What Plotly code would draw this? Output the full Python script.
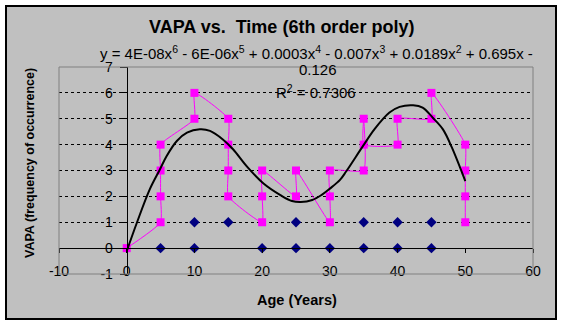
import plotly.graph_objects as go

# VAPA observations (magenta, connected in data order)
vapa_age = [0, 5, 5, 5, 5, 10, 10, 15, 15, 15, 15, 20, 20, 20, 25, 25,
            30, 30, 30, 35, 35, 35, 40, 40, 45, 45, 50, 50, 50, 50]
vapa_val = [0, 1, 2, 3, 4, 5, 6, 5, 4, 3, 2, 1, 2, 3, 2, 3,
            1, 2, 3, 3, 5, 4, 4, 5, 5, 6, 4, 3, 2, 1]

# second series (navy diamonds)
other_age = [5, 10, 20, 25, 30, 35, 40, 45, 10, 15, 25, 35, 40, 45]
other_val = [0, 0, 0, 0, 0, 0, 0, 0, 1, 1, 1, 1, 1, 1]

# 6th-order polynomial trendline
trend_age = [0, 1.5, 3.4, 4.9, 5.9, 7.4, 8.9, 10.8, 12.3, 14.2, 15.7, 17.8,
             20.2, 22.7, 24.4, 25.7, 27.4, 28.8, 30.0, 31.5, 32.4, 34.9, 36.6,
             38.8, 40.3, 42.3, 43.7, 45.2, 46.7, 48.0, 50.0]
trend_val = [-0.12, 0.98, 2.27, 3.04, 3.56, 4.14, 4.46, 4.59, 4.53, 4.2, 3.82, 3.14,
             2.5, 2.05, 1.82, 1.78, 1.86, 2.06, 2.3, 2.64, 2.96, 3.95, 4.6,
             5.24, 5.46, 5.52, 5.43, 5.04, 4.59, 3.9, 2.59]

x_ticks = [-10, 0, 10, 20, 30, 40, 50, 60]
y_ticks = [-1, 0, 1, 2, 3, 4, 5, 6, 7]

title_text = "VAPA vs.  Time (6th order poly)"
eq_line1 = ("y = 4E-08x<sup>6</sup> - 6E-06x<sup>5</sup> + 0.0003x<sup>4</sup> - "
            "0.007x<sup>3</sup> + 0.0189x<sup>2</sup> + 0.695x -")
eq_line2 = "0.126"
r2_text = "R<sup>2</sup> = 0.7306"

FONT = "Liberation Sans, Arial, sans-serif"
BG = "#C0C0C0"

fig = go.Figure()
fig.add_trace(go.Scatter(
    x=vapa_age, y=vapa_val, mode="lines+markers",
    line=dict(color="#FF00FF", width=1, shape="spline", smoothing=0.45),
    marker=dict(symbol="square", size=8, color="#FF00FF"),
    showlegend=False))
fig.add_trace(go.Scatter(
    x=other_age, y=other_val, mode="markers",
    marker=dict(symbol="diamond", size=8, color="#000080"),
    showlegend=False))
fig.add_trace(go.Scatter(
    x=trend_age, y=trend_val, mode="lines",
    line=dict(color="black", width=2, shape="spline", smoothing=1.0),
    showlegend=False))

L, R, T, B = 59, 31, 67, 52
PW, PH = 564 - L - R, 326 - T - B


def px_x(p):
    return (p - L) / PW


def px_y(p):
    return (326 - B - p) / PH


fig.update_layout(
    width=564, height=326,
    margin=dict(l=L, r=R, t=T, b=B, pad=0),
    paper_bgcolor="white", plot_bgcolor=BG,
    font=dict(family=FONT, size=14, color="black"),
    xaxis=dict(range=[-10, 60], tickvals=x_ticks, ticktext=[str(v) for v in x_ticks],
               showgrid=False, zeroline=False, showline=True, linecolor="black",
               linewidth=1, ticks="outside", ticklen=4, tickcolor="black",
               anchor="free", position=1 / 8, ticklabelstandoff=6,
               tickfont=dict(size=14)),
    yaxis=dict(range=[-1, 7], tickvals=y_ticks, ticktext=[str(v) for v in y_ticks],
               showgrid=True, gridcolor="black", gridwidth=1, griddash="3px,3px",
               zeroline=False, showline=True, linecolor="black", linewidth=1,
               ticks="outside", ticklen=7, tickcolor="black",
               anchor="free", position=10 / 70, ticklabelstandoff=4,
               tickfont=dict(size=14)),
)

fig.add_shape(type="rect", xref="paper", yref="paper",
              x0=px_x(6), x1=px_x(556), y0=px_y(319), y1=px_y(6),
              line=dict(color="black", width=2), fillcolor=BG, layer="below")
fig.add_shape(type="rect", xref="paper", yref="paper", x0=0, x1=1, y0=0, y1=1,
              line=dict(color="#808080", width=1), layer="above")

fig.add_annotation(text="<b>" + title_text + "</b>", xref="paper", yref="paper",
                   x=px_x(281), y=px_y(26.5), showarrow=False,
                   font=dict(size=18), xanchor="center", yanchor="middle")
fig.add_annotation(text=eq_line1, xref="paper", yref="paper",
                   x=px_x(316.5), y=px_y(53), showarrow=False,
                   font=dict(size=15), xanchor="center", yanchor="middle")
fig.add_annotation(text=eq_line2, xref="paper", yref="paper",
                   x=px_x(318), y=px_y(70), showarrow=False,
                   font=dict(size=15), xanchor="center", yanchor="middle")
fig.add_annotation(text=r2_text, xref="paper", yref="paper",
                   x=px_x(316), y=px_y(91), showarrow=False,
                   font=dict(size=15), xanchor="center", yanchor="middle")
fig.add_annotation(text="<b>Age (Years)</b>", xref="paper", yref="paper",
                   x=px_x(297), y=px_y(300), showarrow=False,
                   font=dict(size=14.5), xanchor="center", yanchor="middle")
fig.add_annotation(text="<b>VAPA (frequency of occurrence)</b>", xref="paper", yref="paper",
                   x=px_x(30), y=px_y(163), showarrow=False, textangle=-90,
                   font=dict(size=12.5), xanchor="center", yanchor="middle")

fig.write_html("out.html", config=dict(displayModeBar=False))
